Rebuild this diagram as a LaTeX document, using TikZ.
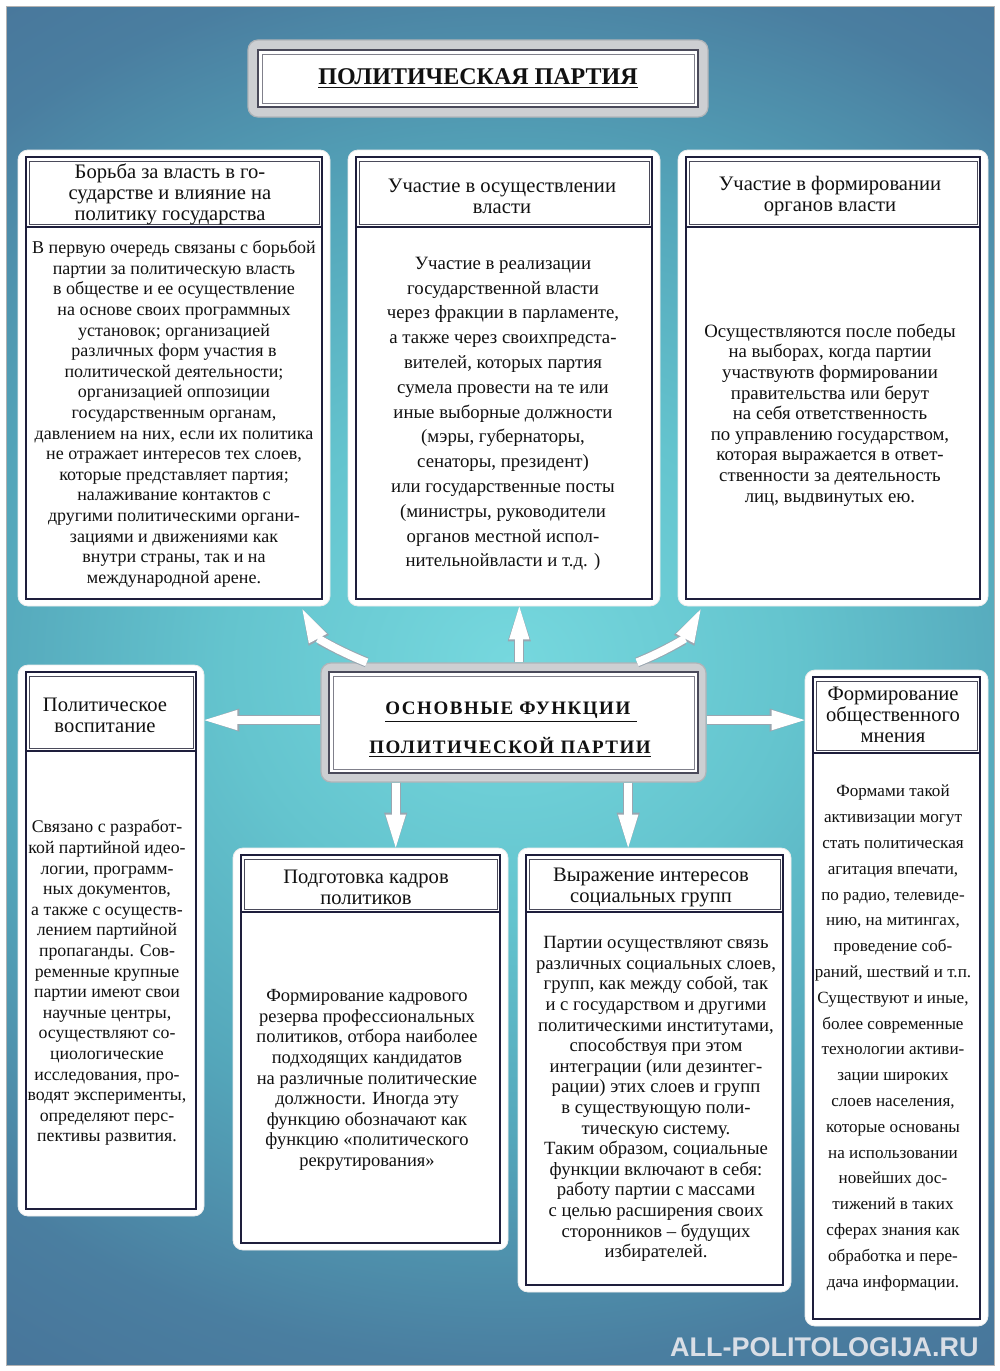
\documentclass[tikz,border=0pt]{standalone}
\usepackage{fontspec}
\setmainfont{Liberation Serif}
\newfontfamily\spacedfont[LetterSpace=8]{Liberation Serif}
\newfontfamily\sitefont{Liberation Sans}
\usetikzlibrary{arrows.meta,calc,fit}

\definecolor{bgA}{HTML}{76D8DE}
\definecolor{bgB}{HTML}{64C4CE}
\definecolor{bgC}{HTML}{54A6BA}
\definecolor{bgD}{HTML}{4A7EA0}
\definecolor{bgE}{HTML}{466F96}
\definecolor{framec}{HTML}{1E1E3C}
\definecolor{hdrc}{HTML}{4A4A5A}
\definecolor{boxgray}{HTML}{CDCFD2}
\definecolor{boxedge}{HTML}{B0B4B8}
\definecolor{arrowgray}{HTML}{9AA6B0}
\definecolor{sitec}{HTML}{D9DEE6}
\definecolor{txtc}{HTML}{111111}

\pgfdeclareradialshading{bgshade}{\pgfpoint{0bp}{0bp}}{color(0bp)=(bgA); color(9bp)=(bgB); color(17bp)=(bgC); color(25bp)=(bgD); color(33bp)=(bgE); color(50bp)=(bgE)}

\newcommand{\mkcard}[6]{%
  \node[cardbg, fit={(#2,#3) (#4,#5)}] (#1) {};
  \node[cardframe, fit={(#2+8,#3+7) (#4-8,#5-7)}] (#1f) {};
  \node[cardhdr, fit={(#2+11,#3+11) (#4-11,#6-3)}] (#1h) {};
  \draw[hdrline] (#2+8,#6) -- (#4-8,#6);
}
\newcommand{\fatarrow}[1]{%
  \draw[fatout] #1;
  \draw[fatin] #1;
}

\begin{document}
\begin{tikzpicture}[x=0.5pt,y=-0.5pt,
  cardbg/.style={fill=white, draw=white!85!gray, line width=0.4pt, rounded corners=5pt, inner sep=0pt},
  cardframe/.style={draw=framec, line width=1.1pt, inner sep=0pt},
  cardhdr/.style={draw=hdrc, line width=0.5pt, inner sep=0pt},
  hdrline/.style={draw=framec, line width=1.1pt},
  graybox/.style={fill=boxgray, draw=boxedge, line width=0.6pt, rounded corners=5pt, inner sep=0pt},
  whitebox/.style={fill=white, draw=hdrc, line width=0.8pt, inner sep=0pt},
  innerline/.style={draw=hdrc!70, line width=0.5pt, inner sep=0pt},
  hdrtxt/.style={align=center, inner sep=0pt, text=txtc, font=\fontsize{10.3}{10.5}\selectfont},
  bodytxt/.style={align=center, inner sep=0pt, text=txtc},
  fatout/.style={draw=arrowgray, line width=5pt, -{Triangle[length=17.5pt,width=11.6pt,line width=0pt]}},
  fatin/.style={draw=white, line width=4pt, -{Triangle[length=16.5pt,width=10.2pt,line width=0pt]}},
]
\useasboundingbox (0,0) rectangle (1000,1371);
\fill[white] (0,0) rectangle (1000,1371);
\begin{scope}
  \clip (6,6) rectangle (994,1365);
  \shade[shading=bgshade] (-280,-40) rectangle (1300,1365);
\end{scope}
\draw[draw=gray!60, line width=0.5pt] (6,6) rectangle (994,1365);

% title
\node[graybox, fit={(248,40) (708,117)}] (T0) {};
\node[whitebox, fit={(258,50) (698,107)}] (T0w) {};
\node[innerline, fit={(262,54) (694,103)}] (T0i) {};
\node[inner sep=0pt, text=txtc, font=\fontsize{12}{14}\selectfont\bfseries] (title) at (478,79) {\underline{ПОЛИТИЧЕСКАЯ ПАРТИЯ}};

% center box
\node[graybox, fit={(321,663) (706,782)}] (F0) {};
\node[whitebox, fit={(329,672) (698,773)}] (F0w) {};
\node[innerline, fit={(333,676) (694,769)}] (F0i) {};
\node[inner sep=0pt, text=txtc, font=\spacedfont\bfseries\fontsize{9.5}{11}\selectfont] (c1) at (511,712) {\underline{ОСНОВНЫЕ ФУНКЦИИ\ }};
\node[inner sep=0pt, text=txtc, font=\spacedfont\bfseries\fontsize{9.5}{11}\selectfont] (c2) at (510,747) {\underline{ПОЛИТИЧЕСКОЙ ПАРТИИ}};

% cards
\mkcard{cA}{18}{150}{330}{606}{227}
\mkcard{cB}{348}{150}{660}{606}{227}
\mkcard{cC}{678}{150}{988}{606}{227}
\mkcard{cD}{18}{665}{204}{1216}{751}
\mkcard{cE}{233}{848}{508}{1250}{912}
\mkcard{cF}{518}{848}{791}{1292}{912}
\mkcard{cG}{805}{670}{988}{1326}{753}

% headers
\node[hdrtxt] (hA) at (170,194) {Борьба за власть в го-\\сударстве и влияние на\\политику государства};
\node[hdrtxt] (hB) at (502,196) {Участие в осуществлении\\власти};
\node[hdrtxt] (hC) at (830,196) {Участие в формировании\\органов власти};
\node[hdrtxt] (hD) at (105,715) {Политическое\\воспитание};
\node[hdrtxt] (hE) at (366,887) {Подготовка кадров\\политиков};
\node[hdrtxt] (hF) at (651,887) {Выражение интересов\\социальных групп};
\node[hdrtxt] (hG) at (893,715) {Формирование\\общественного\\мнения};

% bodies
\node[bodytxt, font=\fontsize{9}{10.3}\selectfont] (bA) at (174,414) {В первую очередь связаны с борьбой\\партии за политическую власть\\в обществе и ее осуществление\\на основе своих программных\\установок; организацией\\различных форм участия в\\политической деятельности;\\организацией оппозиции\\государственным органам,\\давлением на них, если их политика\\не отражает интересов тех слоев,\\которые представляет партия;\\налаживание контактов с\\другими политическими органи-\\зациями и движениями как\\внутри страны, так и на\\международной арене.};
\node[bodytxt, font=\fontsize{9.4}{12.4}\selectfont] (bB) at (503,414) {Участие в реализации\\государственной власти\\через фракции в парламенте,\\а также через своихпредста-\\вителей, которых партия\\сумела провести на те или\\иные выборные должности\\(мэры, губернаторы,\\сенаторы, президент)\\или государственные посты\\(министры, руководители\\органов местной испол-\\нительнойвласти и т.д. )};
\node[bodytxt, font=\fontsize{9.4}{10.3}\selectfont] (bC) at (830,415) {Осуществляются после победы\\на выборах, когда партии\\участвуютв формировании\\правительства или берут\\на себя ответственность\\по управлению государством,\\которая выражается в ответ-\\ственности за деятельность\\лиц, выдвинутых ею.};
\node[bodytxt, font=\fontsize{8.9}{10.3}\selectfont] (bD) at (107,983) {Связано с разработ-\\кой партийной идео-\\логии, программ-\\ных документов,\\а также с осуществ-\\лением партийной\\пропаганды. Сов-\\ременные крупные\\партии имеют свои\\научные центры,\\осуществляют со-\\циологические\\исследования, про-\\водят эксперименты,\\определяют перс-\\пективы развития.};
\node[bodytxt, font=\fontsize{9.25}{10.3}\selectfont] (bE) at (367,1080) {Формирование кадрового\\резерва профессиональных\\политиков, отбора наиболее\\подходящих кандидатов\\на различные политические\\должности. Иногда эту\\функцию обозначают как\\функцию «политического\\рекрутирования»};
\node[bodytxt, font=\fontsize{9.35}{10.3}\selectfont] (bF) at (656,1099) {Партии осуществляют связь\\различных социальных слоев,\\групп, как между собой, так\\и с государством и другими\\политическими институтами,\\способствуя при этом\\интеграции (или дезинтег-\\рации) этих слоев и групп\\в существующую поли-\\тическую систему.\\Таким образом, социальные\\функции включают в себя:\\работу партии с массами\\с целью расширения своих\\сторонников – будущих\\избирателей.};
\node[bodytxt, font=\fontsize{8.55}{12.9}\selectfont] (bG) at (893,1038) {Формами такой\\активизации могут\\стать политическая\\агитация впечати,\\по радио, телевиде-\\нию, на митингах,\\проведение соб-\\раний, шествий и т.п.\\Существуют и иные,\\более современные\\технологии активи-\\зации широких\\слоев населения,\\которые основаны\\на использовании\\новейших дос-\\тижений в таких\\сферах знания как\\обработка и пере-\\дача информации.};

% site label
\node[inner sep=0pt, anchor=east, text=sitec, font=\sitefont\bfseries\fontsize{13.5}{16}\selectfont] (site) at (979,1347) {ALL-POLITOLOGIJA.RU};

% arrows
\coordinate (up) at ($(F0.north west)!0.515!(F0.north east)$);
\coordinate (cl) at ($(F0.north west)!0.12!(F0.north east)$);
\coordinate (cr) at ($(F0.north west)!0.82!(F0.north east)$);
\coordinate (tl) at ($(cA.south east)+(-28,3)$);
\coordinate (tr) at ($(cC.south west)+(23,3)$);
\coordinate (d1) at ($(F0.south west)!0.195!(F0.south east)$);
\coordinate (d2) at ($(F0.south west)!0.797!(F0.south east)$);
\coordinate (lm) at ($(F0.north west)!0.48!(F0.south west)$);
\coordinate (rm) at ($(F0.north east)!0.48!(F0.south east)$);

\fatarrow{(up) -- (up |- cB.south)}
\fatarrow{(cl) to[out=158,in=-62] (tl)}
\fatarrow{(cr) to[out=22,in=-118] (tr)}
\fatarrow{(lm) -- (lm -| cD.east)}
\fatarrow{(rm) -- (rm -| cG.west)}
\fatarrow{(d1) -- (d1 |- cE.north)}
\fatarrow{(d2) -- (d2 |- cF.north)}
\end{tikzpicture}
\end{document}
